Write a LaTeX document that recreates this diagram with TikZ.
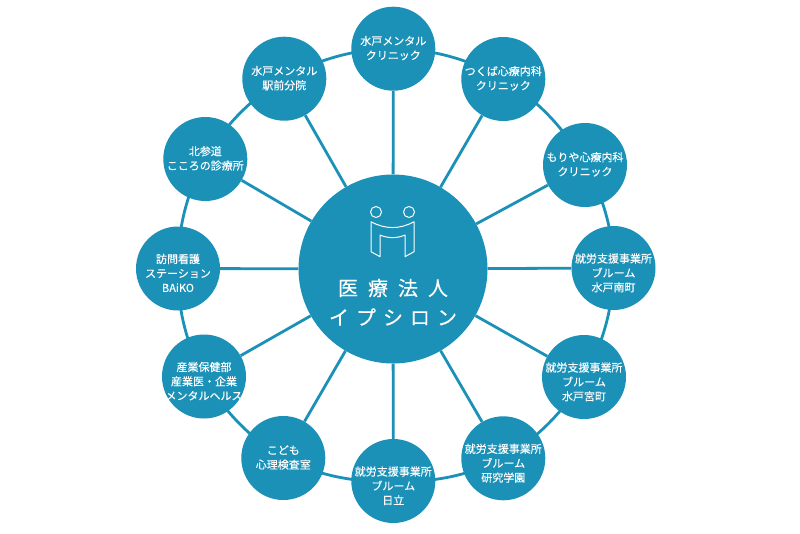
\documentclass[tikz,border=0pt]{standalone}
\usepackage{fontspec}
\setmainfont[FakeBold=0.2]{Noto Sans CJK JP}
\definecolor{teal1}{HTML}{1B91B7}
\pgfdeclarelayer{bg}
\pgfsetlayers{bg,main}
\newcommand{\lbl}[2]{\smash{\makebox[0pt]{\raisebox{#1}{\begin{tabular}[c]{@{}c@{}}#2\end{tabular}}}}}
\newcommand{\lbltwo}[1]{\lbl{-3.4pt}{#1}}
\newcommand{\lblthree}[1]{\lbl{-8.9pt}{#1}}
\tikzset{
  x=1pt,y=-1pt,
  sat/.style={circle,fill=teal1,text=white,minimum size=84pt,inner sep=0pt,font=\fontsize{11}{14.4}\selectfont},
  hub/.style={circle,fill=teal1,minimum size=189pt,inner sep=0pt},
  maintext/.style={text=white,font=\fontsize{20}{24}\selectfont,inner sep=0pt},
  link/.style={draw=teal1,line width=2.8pt},
  logo/.style={draw=white,line width=1pt,line join=round}
}
\begin{document}
\begin{tikzpicture}
\useasboundingbox (0,0) rectangle (800,533);
\node[hub] (c) at (393,269) {};
\node[sat] (n0) at (393.3,48.7) {\lbltwo{水戸メンタル\\クリニック}};
\node[sat] (n1) at (503.3,79) {\lbltwo{つくば心療内科\\クリニック}};
\node[sat] (n2) at (585,165) {\lbltwo{もりや心療内科\\クリニック}};
\node[sat] (n3) at (613.5,268) {\lblthree{就労支援事業所\\ブルーム\\水戸南町}};
\node[sat] (n4) at (584,377) {\lblthree{就労支援事業所\\ブルーム\\水戸宮町}};
\node[sat] (n5) at (503.3,458.3) {\lblthree{就労支援事業所\\ブルーム\\研究学園}};
\node[sat] (n6) at (393.3,481) {\lblthree{就労支援事業所\\ブルーム\\日立}};
\node[sat] (n7) at (283.3,458) {\lbltwo{こども\\心理検査室}};
\node[sat] (n8) at (204,376.5) {\lblthree{産業保健部\\産業医・企業\\メンタルヘルス}};
\node[sat] (n9) at (178,268.5) {\lblthree{訪問看護\\ステーション\\BAiKO}};
\node[sat] (n10) at (205.3,159) {\lbltwo{北参道\\こころの診療所}};
\node[sat] (n11) at (284.3,78.7) {\lbltwo{水戸メンタル\\駅前分院}};
\begin{pgfonlayer}{bg}
\foreach \i in {0,...,11} {\draw[link] (c) -- (n\i);}
\foreach \a/\b in {0/1,1/2,2/3,3/4,4/5,5/6,6/7,7/8,8/9,9/10,10/11,11/0} {\draw[link] (n\a.center) to[bend left=15,looseness=0.87] (n\b.center);}
\end{pgfonlayer}
\node[maintext] (t1) at (393,288) {医\kern10pt 療\kern10pt 法\kern10pt 人};
\node[maintext] (t2) at (393,317) {イ\kern7pt プ\kern7pt シ\kern7pt ロ\kern7pt ン};
\draw[logo] (376,212) circle (5.5);
\draw[logo] (409,212) circle (5.5);
\draw[logo] (371,221.7) .. controls (385,229.5) and (400,229.5) .. (414,221.7) -- (414,251.7) -- (405,256.7) -- (405,235) .. controls (397,238.5) and (388,238.5) .. (380,235) -- (380,256.7) -- (371,251.7) -- cycle;
\end{tikzpicture}
\end{document}
